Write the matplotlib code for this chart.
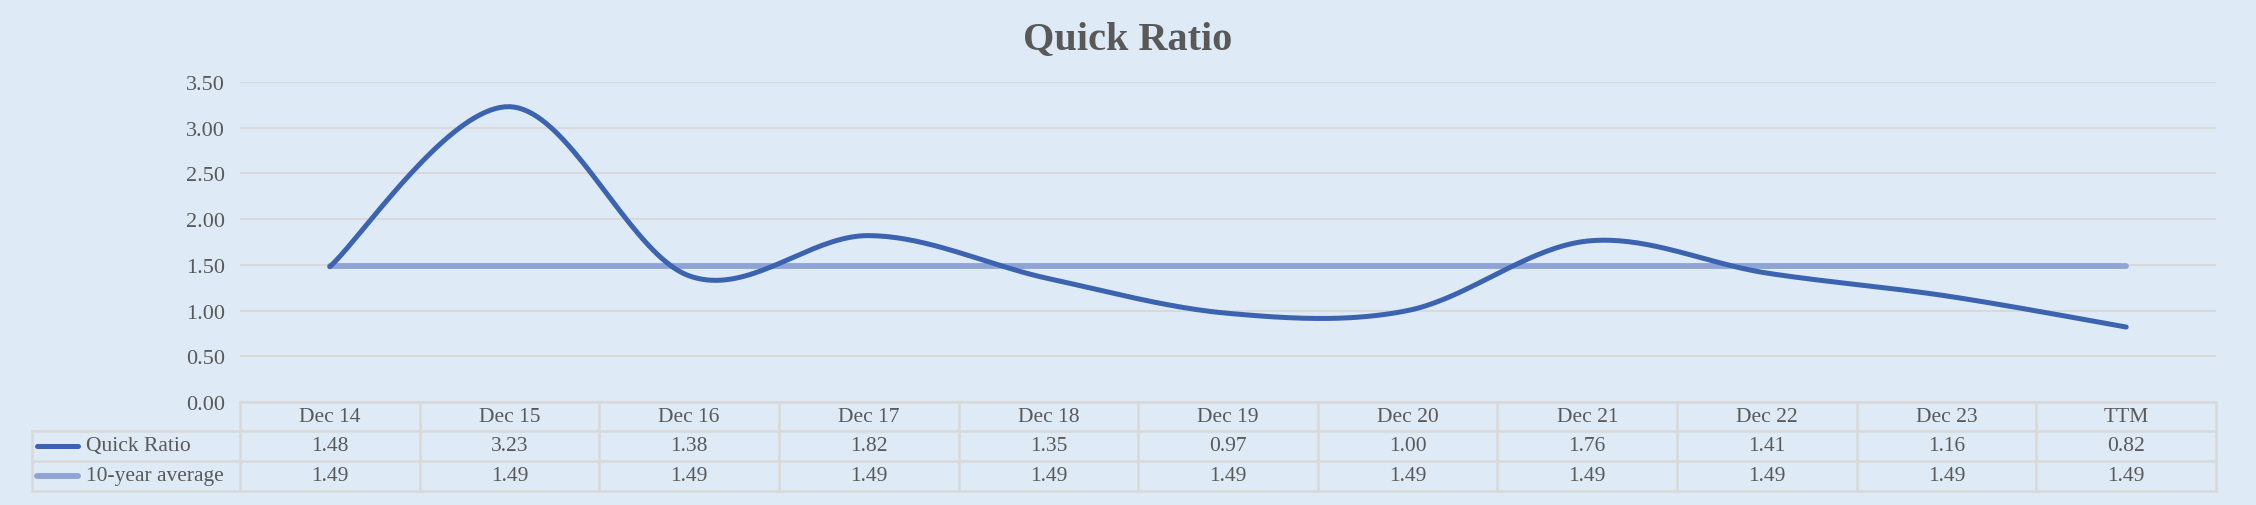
import numpy as np
import matplotlib.pyplot as plt
from matplotlib.lines import Line2D

periods = ["Dec 14", "Dec 15", "Dec 16", "Dec 17", "Dec 18", "Dec 19",
           "Dec 20", "Dec 21", "Dec 22", "Dec 23", "TTM"]
quick_ratio = [1.48, 3.23, 1.38, 1.82, 1.35, 0.97, 1.00, 1.76, 1.41, 1.16, 0.82]
ten_year_avg = [1.49] * 11
y_ticks = [0.0, 0.5, 1.0, 1.5, 2.0, 2.5, 3.0, 3.5]

bg = "#DEEAF6"
grid_c = "#D9D9D9"
txt_c = "#595959"
c_qr = "#3C63AF"
c_avg = "#8FA4D5"

plt.rcParams["font.family"] = ["Liberation Serif", "DejaVu Serif"]

W, H = 2256, 506
fig = plt.figure(figsize=(W / 100, H / 100), dpi=100, facecolor=bg)

# plot area in pixels
left, right, top, bottom = 240, 2216, 83, 403
ax = fig.add_axes([left / W, 1 - bottom / H, (right - left) / W, (bottom - top) / H])
ax.set_facecolor(bg)


def smooth(y, steps=40):
    # excel-like smoothed line (catmull-rom as cubic bezier)
    p = np.column_stack([np.arange(len(y)), y]).astype(float)
    out = []
    t = np.linspace(0, 1, steps)[:, None]
    for i in range(len(p) - 1):
        p0 = p[i - 1] if i > 0 else p[i]
        p1, p2 = p[i], p[i + 1]
        p3 = p[i + 2] if i + 2 < len(p) else p[i + 1]
        c1 = p1 + (p2 - p0) / 6
        c2 = p2 - (p3 - p1) / 6
        seg = (1 - t) ** 3 * p1 + 3 * (1 - t) ** 2 * t * c1 + 3 * (1 - t) * t ** 2 * c2 + t ** 3 * p2
        out.append(seg)
    out = np.vstack(out)
    return out[:, 0], out[:, 1]


x = np.arange(len(periods))
for yt in y_ticks:
    ax.axhline(yt, color=grid_c, lw=1.5, zorder=1)

ax.plot(x, ten_year_avg, color=c_avg, lw=4.2, solid_capstyle="round", zorder=2)
sx, sy = smooth(quick_ratio)
ax.plot(sx, sy, color=c_qr, lw=3.6, solid_capstyle="round", zorder=3)

ax.set_xlim(-0.5, len(periods) - 0.5)
ax.set_ylim(0, 3.5)
ax.set_xticks([])
ax.set_yticks(y_ticks)
ax.set_yticklabels([f"{v:.2f}" for v in y_ticks], fontsize=16, color=txt_c)
ax.tick_params(axis="y", length=0, pad=11)
for s in ax.spines.values():
    s.set_visible(False)

fig.text(0.5, 1 - 40 / H, "Quick Ratio", ha="center", va="center",
         fontsize=29, fontweight="bold", color=txt_c)

# data table under the chart
def fx(px):
    return px / W


def fy(py):
    return 1 - py / H


rows = [403, 432, 462, 492]
leg_left = 32
col_w = (right - left) / len(periods)
lk = dict(color=grid_c, lw=1.8, transform=fig.transFigure)

fig.add_artist(Line2D([fx(left), fx(right)], [fy(rows[0])] * 2, **lk))
for r in rows[1:]:
    fig.add_artist(Line2D([fx(leg_left), fx(right)], [fy(r)] * 2, **lk))
fig.add_artist(Line2D([fx(leg_left)] * 2, [fy(rows[1]), fy(rows[3])], **lk))
for i in range(len(periods) + 1):
    xc = left + i * col_w
    fig.add_artist(Line2D([fx(xc)] * 2, [fy(rows[0]), fy(rows[3])], **lk))

fs = 15.5
for i, p in enumerate(periods):
    xc = fx(left + (i + 0.5) * col_w)
    fig.text(xc, fy((rows[0] + rows[1]) / 2), p, ha="center", va="center", fontsize=fs, color=txt_c)
    fig.text(xc, fy((rows[1] + rows[2]) / 2), f"{quick_ratio[i]:.2f}", ha="center", va="center", fontsize=fs, color=txt_c)
    fig.text(xc, fy((rows[2] + rows[3]) / 2), f"{ten_year_avg[i]:.2f}", ha="center", va="center", fontsize=fs, color=txt_c)

for r, (name, c, lw) in enumerate([("Quick Ratio", c_qr, 3.6), ("10-year average", c_avg, 4.2)]):
    yc = fy((rows[r + 1] + rows[r + 2]) / 2)
    fig.add_artist(Line2D([fx(37), fx(78)], [yc, yc], color=c, lw=lw,
                          solid_capstyle="round", transform=fig.transFigure))
    fig.text(fx(86), yc, name, ha="left", va="center", fontsize=fs, color=txt_c)

fig.savefig("out.png", dpi=100, facecolor=bg)
